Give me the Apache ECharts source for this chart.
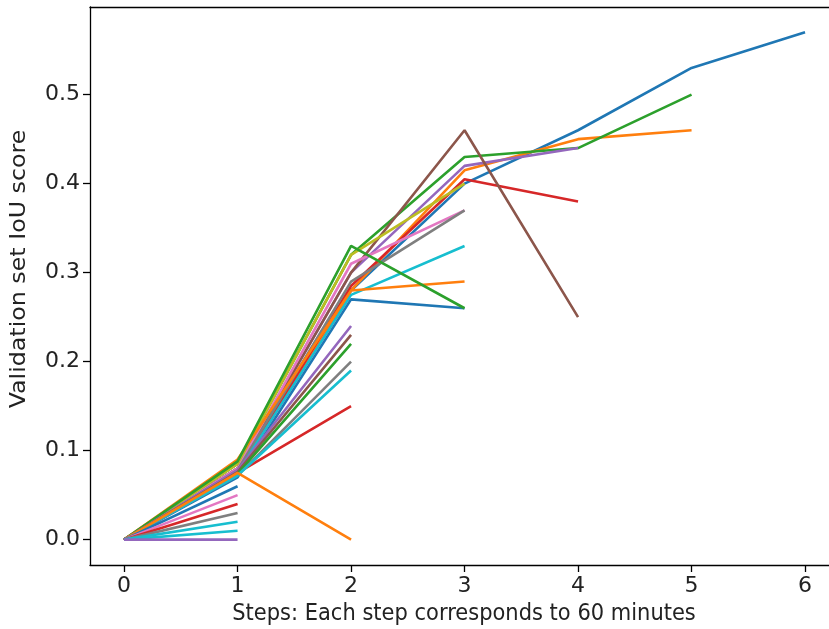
<!DOCTYPE html>
<html>
<head>
<meta charset="utf-8">
<script src="https://cdn.jsdelivr.net/npm/echarts@6/dist/echarts.min.js"></script>
<style>
  html, body { margin: 0; padding: 0; background: #fff; }
  #chart { width: 829px; height: 629px; }
</style>
</head>
<body>
<div id="chart"></div>
<script>
// Training steps (one step = 60 minutes)
const steps = [0, 1, 2, 3, 4, 5, 6];

// Validation IoU per run, one value per completed step
const run01 = [0, 0.075, 0.28, 0.40, 0.46, 0.53, 0.57];
const run02 = [0, 0.080, 0.28, 0.415, 0.45, 0.46];
const run03 = [0, 0.085, 0.32, 0.43, 0.44, 0.50];
const run04 = [0, 0.075, 0.285, 0.405, 0.38];
const run05 = [0, 0.080, 0.30, 0.42, 0.44];
const run06 = [0, 0.080, 0.30, 0.46, 0.25];
const run07 = [0, 0.080, 0.31, 0.37];
const run08 = [0, 0.078, 0.29, 0.37];
const run09 = [0, 0.085, 0.32, 0.40];
const run10 = [0, 0.075, 0.275, 0.33];
const run11 = [0, 0.070, 0.27, 0.26];
const run12 = [0, 0.090, 0.28, 0.29];
const run13 = [0, 0.088, 0.33, 0.26];
const run14 = [0, 0.075, 0.15];
const run15 = [0, 0.078, 0.24];
const run16 = [0, 0.076, 0.23];
const run17 = [0, 0.074, 0.22];
const run18 = [0, 0.072, 0.20];
const run19 = [0, 0.072, 0.19];
const run20 = [0, 0.075, 0.0];
const run21 = [0, 0.06];
const run22 = [0, 0.05];
const run23 = [0, 0.04];
const run24 = [0, 0.03];
const run25 = [0, 0.02];
const run26 = [0, 0.01];
const run27 = [0, 0.0];

// Tick labels
const xTicks = [0, 1, 2, 3, 4, 5, 6];
const yTicks = [0.0, 0.1, 0.2, 0.3, 0.4, 0.5];

const runs = [run01, run02, run03, run04, run05, run06, run07, run08, run09, run10,
              run11, run12, run13, run14, run15, run16, run17, run18, run19, run20,
              run21, run22, run23, run24, run25, run26, run27];

// matplotlib "tab10" palette
const tab10 = {
  blue: '#1f77b4', orange: '#ff7f0e', green: '#2ca02c', red: '#d62728', purple: '#9467bd',
  brown: '#8c564b', pink: '#e377c2', gray: '#7f7f7f', olive: '#bcbd22', cyan: '#17becf'
};
const runColors = [
  'blue', 'orange', 'green', 'red', 'purple', 'brown', 'pink', 'gray', 'olive', 'cyan',
  'blue', 'orange', 'green', 'red', 'purple', 'brown', 'green', 'gray', 'cyan', 'orange',
  'blue', 'pink', 'red', 'gray', 'cyan', 'cyan', 'purple'
].map(c => tab10[c]);

const FONT = 'DejaVu Sans';
const FS = 21;
const TICK_FS = 22;

const series = runs.map((vals, i) => ({
  type: 'line',
  data: vals.map((v, k) => [steps[k], v]),
  showSymbol: false,
  symbol: 'none',
  lineStyle: { color: runColors[i], width: 2.6 },
  itemStyle: { color: runColors[i] },
  z: 2 + i,
  silent: true
}));

const spine = { color: '#000', width: 1.3 };

// The plot frame runs past the right edge of the page; the visible x range
// ends a little before the frame would.
const chart = echarts.init(document.getElementById('chart'), null, { renderer: 'canvas' });
chart.setOption({
  animation: false,
  backgroundColor: '#fff',
  grid: { left: 90, top: 7, right: 0, height: 558, containLabel: false },
  xAxis: [
    {
      type: 'value', position: 'bottom',
      min: -0.3, max: 6.211,
      splitLine: { show: false },
      axisLine: { show: true, onZero: false, lineStyle: spine },
      axisTick: { show: true, length: 7, lineStyle: spine, customValues: xTicks },
      axisLabel: {
        customValues: xTicks, margin: 10,
        color: '#222', fontFamily: FONT, fontSize: TICK_FS,
        formatter: v => String(Math.round(v))
      }
    },
    {
      type: 'value', position: 'top',
      min: -0.3, max: 6.211,
      splitLine: { show: false },
      axisLine: { show: true, onZero: false, lineStyle: spine },
      axisTick: { show: false },
      axisLabel: { show: false }
    }
  ],
  yAxis: {
    type: 'value', position: 'left',
    min: -0.0285, max: 0.5985,
    splitLine: { show: false },
    axisLine: { show: true, onZero: false, lineStyle: spine },
    axisTick: { show: true, length: 7, lineStyle: spine, customValues: yTicks },
    axisLabel: {
      customValues: yTicks, margin: 10,
      color: '#222', fontFamily: FONT, fontSize: TICK_FS,
      formatter: v => v.toFixed(1)
    }
  },
  graphic: [
    {
      type: 'text', x: 20, y: 269, rotation: Math.PI / 2, scaleX: 1.13,
      style: { text: 'Validation set IoU score', fill: '#222', font: FS + 'px "' + FONT + '"',
               align: 'center', verticalAlign: 'middle' }
    },
    {
      type: 'text', x: 464, y: 614, scaleY: 1.1,
      style: { text: 'Steps: Each step corresponds to 60 minutes', fill: '#222', font: FS + 'px "' + FONT + '"',
               align: 'center', verticalAlign: 'middle' }
    }
  ],
  series: series
});
</script>
</body>
</html>
